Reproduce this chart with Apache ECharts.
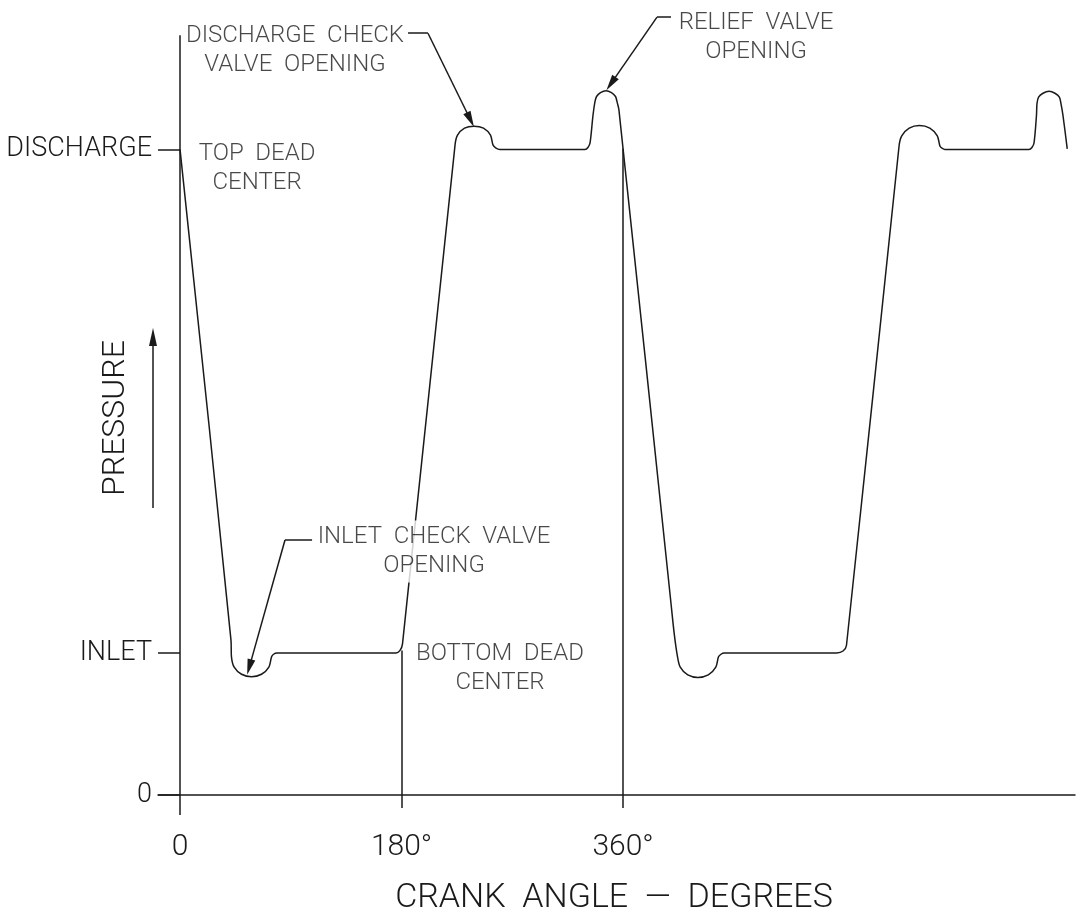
<!DOCTYPE html>
<html>
<head>
<meta charset="utf-8">
<script src="https://cdn.jsdelivr.net/npm/echarts@6/dist/echarts.min.js"></script>
<style>
  html, body { margin: 0; padding: 0; background: #fff; }
  #main { width: 1080px; height: 924px; }
</style>
</head>
<body>
<div id="main"></div>
<script>
// crank angle (deg) and pressure (0 = zero, 22 = inlet, 100 = discharge)
var crankAngle = [
  0, 41.4, 41.8, 44.0, 50.0, 58.1, 66.2, 72.2, 74.4, 76.0, 78.8,
  175.5, 178.8, 180.8,
  223.5, 225.5, 231.2, 238.9, 246.6, 252.3, 254.3, 256.8, 260.0,
  329.1, 331.5, 333.2, 335.6, 337.2, 338.5, 341.7, 346.2, 350.6, 353.9, 355.1, 356.7,
  398.7, 401.6, 404.3, 406.5, 412.6, 420.9, 429.3, 435.4, 437.6, 439.6, 442.1,
  533.6, 538.8, 541.6,
  584.3, 586.5, 592.6, 600.9, 609.3, 615.4, 617.6, 619.2, 621.6,
  689.9, 692.3, 694.0, 696.0, 696.4, 697.7, 701.3, 706.2, 711.0, 714.6, 715.9, 717.5, 721.0
];
var pressure = [
  100, 24.0, 21.4, 19.8, 18.7, 18.3, 18.7, 19.8, 21.4, 21.8, 22.0,
  22.0, 22.4, 23.4,
  100.7, 102.2, 103.3, 103.6, 103.3, 102.2, 100.7, 100.2, 100.0,
  100.0, 100.3, 101.0, 105.3, 107.4, 108.2, 108.8, 109.1, 108.8, 108.2, 107.4, 106.1,
  30.2, 25.0, 21.4, 19.8, 18.6, 18.2, 18.6, 19.8, 21.4, 21.8, 22.0,
  22.0, 22.3, 23.2,
  100.5, 102.1, 103.3, 103.7, 103.3, 102.1, 100.5, 100.2, 100.0,
  100.0, 100.3, 101.0, 105.3, 107.1, 108.1, 108.7, 109.0, 108.7, 108.1, 107.1, 105.3, 100.1
];

var xTickValues = [0, 180, 360];
var xTickLabels = ['0', '180°', '360°'];
var yTickValues = [0, 22, 100];
var yTickLabels = ['0', 'INLET', 'DISCHARGE'];

// note texts and their centre points [angle, pressure]
var noteTexts = [
  'DISCHARGE  CHECK\nVALVE  OPENING',
  'TOP  DEAD\nCENTER',
  'RELIEF  VALVE\nOPENING',
  'INLET  CHECK  VALVE\nOPENING',
  'BOTTOM  DEAD\nCENTER'
];
var noteAngle = [93.4, 62.6, 468.1, 206.4, 260.0];
var notePressure = [115.3, 97.1, 117.4, 37.7, 19.6];
var noteMasked = [false, false, false, true, false];

// leader lines: [elbow start, elbow end, arrow tip]
var leaders = [
  [[185.3, 118.0], [201.5, 118.0], [236.0, 104.6]],
  [[399.0, 120.5], [387.6, 120.5], [350.2, 110.2]],
  [[107.3, 39.5], [85.3, 39.5], [56.3, 19.8]]
];

// pressure axis extent drawn as a line, dead-centre marker lines
var yAxisTop = 117.7;
var yAxisBottom = -3.1;
var deadCentre = [[180, 22.4], [360, 100.1]];
var markerBottom = -2.0;

var FONT = 'Roboto';
var INK = '#1a1a1a';

var chart = echarts.init(document.getElementById('main'));

var lineData = crankAngle.map(function (a, i) { return [a, pressure[i]]; });
var noteData = noteTexts.map(function (t, i) {
  var item = { name: t, value: [noteAngle[i], notePressure[i]] };
  if (noteMasked[i]) {
    item.label = { backgroundColor: '#fff', padding: [2, 4] };
  }
  return item;
});

var markData = [
  [{ coord: [0, yAxisTop], symbol: 'none' }, { coord: [0, yAxisBottom], symbol: 'none' }]
];
deadCentre.forEach(function (d) {
  markData.push([{ coord: d, symbol: 'none' }, { coord: [d[0], markerBottom], symbol: 'none' }]);
});
leaders.forEach(function (l) {
  markData.push([{ coord: l[0], symbol: 'none' }, { coord: l[1], symbol: 'none' }]);
  markData.push([{ coord: l[1], symbol: 'none' },
    { coord: l[2], symbol: 'path://M0,0 L4,16 L-4,16 Z', symbolSize: 16, symbolKeepAspect: true }]);
});

var option = {
  animation: false,
  backgroundColor: '#fff',
  grid: { left: 158, right: 5, top: 10, bottom: 109, containLabel: false, outerBoundsMode: 'none' },
  xAxis: {
    type: 'value',
    min: -17.9,
    max: 727.3,
    axisLine: { onZero: true, lineStyle: { color: INK, width: 1.5 } },
    axisTick: { show: false },
    splitLine: { show: false },
    axisLabel: {
      customValues: xTickValues,
      margin: 17,
      color: INK,
      fontFamily: FONT,
      fontWeight: 300,
      fontSize: 30,
      formatter: function (v) { return xTickLabels[xTickValues.indexOf(v)]; }
    }
  },
  yAxis: {
    type: 'value',
    min: -3.1,
    max: 121.6,
    axisLine: { show: false, onZero: true },
    axisTick: { customValues: yTickValues, length: 22, lineStyle: { color: INK, width: 1.5 } },
    splitLine: { show: false },
    axisLabel: {
      customValues: yTickValues,
      margin: 6,
      color: INK,
      fontFamily: FONT,
      fontWeight: 300,
      fontSize: 27,
      formatter: function (v) { return yTickLabels[yTickValues.indexOf(v)]; }
    }
  },
  series: [
    {
      name: 'pressure',
      type: 'line',
      data: lineData,
      symbol: 'none',
      smooth: 0.3,
      clip: false,
      z: 2,
      lineStyle: { color: INK, width: 1.5 },
      markLine: {
        silent: true,
        animation: false,
        label: { show: false },
        lineStyle: { color: INK, width: 1.5, type: 'solid' },
        itemStyle: { color: INK },
        data: markData
      }
    },
    {
      name: 'notes',
      type: 'scatter',
      data: noteData,
      symbolSize: 1,
      z: 5,
      itemStyle: { color: 'rgba(0,0,0,0)' },
      label: {
        show: true,
        position: 'inside',
        formatter: '{b}',
        color: INK,
        fontFamily: FONT,
        fontWeight: 300,
        fontSize: 24,
        lineHeight: 29,
        align: 'center',
        verticalAlign: 'middle'
      }
    }
  ],
  graphic: [
    {
      type: 'text',
      x: 116, y: 418,
      rotation: Math.PI / 2,
      style: {
        text: 'PRESSURE', fill: INK, font: '300 32px Roboto',
        align: 'center', verticalAlign: 'middle'
      }
    },
    {
      type: 'text',
      x: 614, y: 898,
      style: {
        text: 'CRANK  ANGLE  —  DEGREES', fill: INK, font: '300 34px Roboto',
        align: 'center', verticalAlign: 'middle'
      }
    },
    {
      type: 'line',
      shape: { x1: 153, y1: 508, x2: 153, y2: 342 },
      style: { stroke: INK, lineWidth: 1.5 }
    },
    {
      type: 'polygon',
      shape: { points: [[153, 328], [157, 346], [149, 346]] },
      style: { fill: INK }
    }
  ]
};

chart.setOption(option);
</script>
</body>
</html>
